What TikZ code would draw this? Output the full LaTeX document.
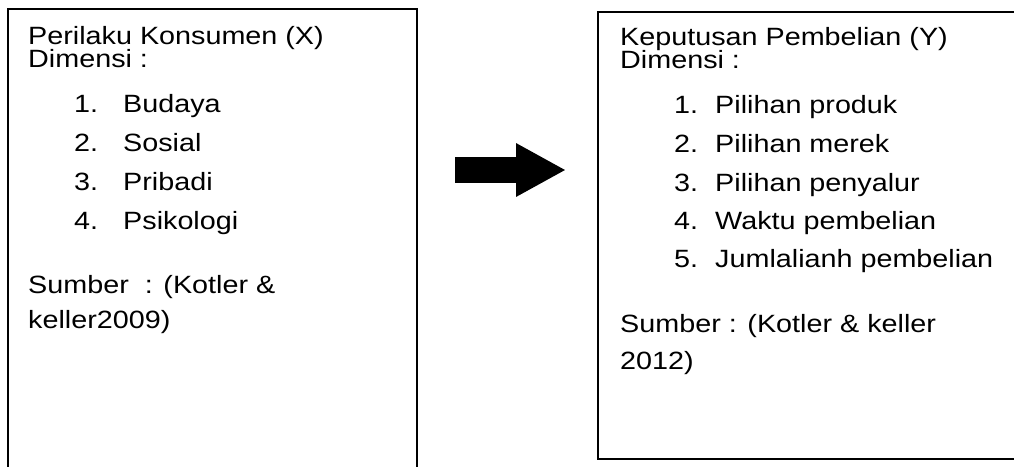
\documentclass[tikz,border=0pt]{standalone}
\usepackage{fontspec}
\setmainfont{Liberation Sans}[FakeStretch=1.15]
\usetikzlibrary{arrows.meta}
\begin{document}
\begin{tikzpicture}[x=1pt,y=-1pt,
  box/.style={draw=black, line width=1.6pt, inner sep=0pt, anchor=north west},
  txt/.style={anchor=base west, inner sep=0pt, font=\fontsize{25}{29}\selectfont},
  blockarrow/.style={line width=26pt, -{Triangle[length=50pt,width=50pt]}}]
\useasboundingbox (0,0) rectangle (1014,466);
% boxes
\node[box, minimum width=409pt, minimum height=490pt] (L) at (7,8) {};
\node[box, minimum width=430pt, minimum height=447pt] (R) at (597,11) {};
% left text
\node[txt] (l1) at (28,44) {Perilaku Konsumen (X)};
\node[txt] (l2) at (28,67) {Dimensi :};
\node[txt] (ln1) at (74,112) {1.};
\node[txt] (li1) at (123,112) {Budaya};
\node[txt] (ln2) at (74,151) {2.};
\node[txt] (li2) at (123,151) {Sosial};
\node[txt] (ln3) at (74,190) {3.};
\node[txt] (li3) at (123,190) {Pribadi};
\node[txt] (ln4) at (74,229) {4.};
\node[txt] (li4) at (123,229) {Psikologi};
\node[txt] (ls1) at (28,293) {Sumber \ : (Kotler \&};
\node[txt] (ls2) at (28,328) {keller2009)};
% right text
\node[txt] (r1) at (620,45) {Keputusan Pembelian (Y)};
\node[txt] (r2) at (620,68) {Dimensi :};
\node[txt] (rn1) at (674,113) {1.};
\node[txt] (ri1) at (715,113) {Pilihan produk};
\node[txt] (rn2) at (674,152) {2.};
\node[txt] (ri2) at (715,152) {Pilihan merek};
\node[txt] (rn3) at (674,191) {3.};
\node[txt] (ri3) at (715,191) {Pilihan penyalur};
\node[txt] (rn4) at (674,229) {4.};
\node[txt] (ri4) at (715,229) {Waktu pembelian};
\node[txt] (rn5) at (674,267) {5.};
\node[txt] (ri5) at (715,267) {Jumlalianh pembelian};
\node[txt] (rs1) at (620,332) {Sumber : (Kotler \& keller};
\node[txt] (rs2) at (620,369) {2012)};
% arrow
\coordinate (arrS) at (455,170);
\coordinate (arrE) at (566,170);
\draw[blockarrow] (arrS) -- (arrE);
\end{tikzpicture}
\end{document}
